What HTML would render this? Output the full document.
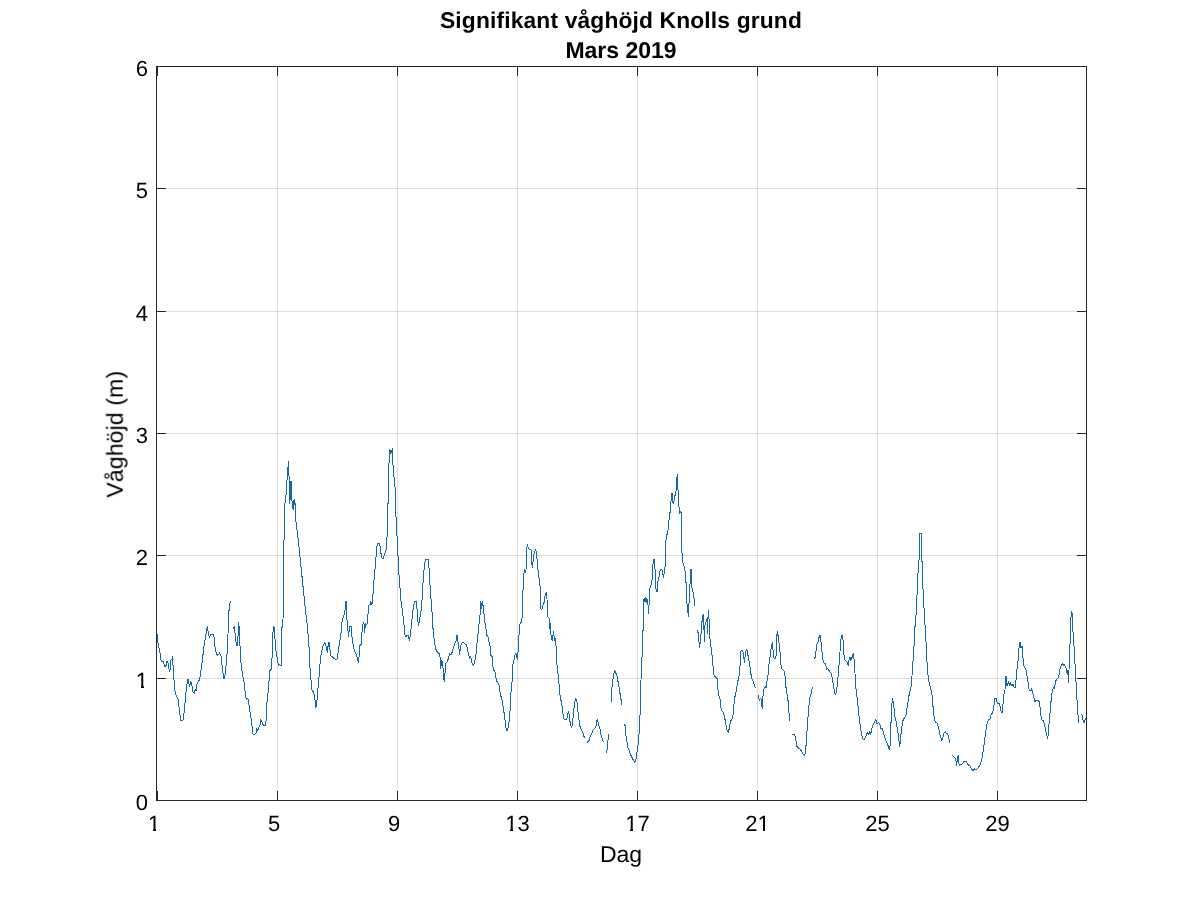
<!DOCTYPE html><html><head><meta charset="utf-8"><style>html,body{margin:0;padding:0;background:#fff;width:1200px;height:900px;overflow:hidden}svg{display:block}text{font-family:"Liberation Sans",sans-serif;fill:#000;text-rendering:geometricPrecision}</style></head><body>
<svg width="1200" height="900" viewBox="0 0 1200 900">
<rect x="0" y="0" width="1200" height="900" fill="#fff"/>
<path d="M277.5 67V800 M397.5 67V800 M517.5 67V800 M637.5 67V800 M757.5 67V800 M877.5 67V800 M997.5 67V800" stroke="#262626" stroke-opacity="0.15" stroke-width="1" fill="none" shape-rendering="crispEdges"/>
<path d="M157 678.5H1086 M157 555.5H1086 M157 433.5H1086 M157 311.5H1086 M157 188.5H1086" stroke="#262626" stroke-opacity="0.15" stroke-width="1" fill="none" shape-rendering="crispEdges"/>
<path d="M157.4 633.8 157.6 640.8 158.1 643.2 159.3 649.3 160.1 653.0 161.1 660.3 162.1 662.2 162.9 661.0 163.8 663.4 164.8 666.5 166.0 665.8 167.0 661.0 167.8 661.6 168.7 667.1 169.4 672.0 170.3 668.9 170.9 660.3 171.9 659.1 172.5 656.7 173.1 666.5 173.9 678.7 174.8 689.7 175.8 694.6 177.2 697.0 178.2 699.5 178.8 705.6 179.7 712.9 180.7 720.2 181.9 720.9 182.9 720.2 183.7 715.4 184.6 708.0 185.6 695.8 186.5 688.5 187.4 679.9 188.3 679.3 189.0 683.6 189.8 686.6 190.5 681.1 191.4 682.3 192.3 687.2 193.1 692.1 194.1 693.3 195.1 689.7 196.0 690.9 196.8 684.8 197.8 682.3 198.8 681.1 200.0 677.5 200.8 671.3 202.1 662.8 203.3 651.8 204.5 641.4 205.4 638.3 206.3 632.2 207.3 626.1 208.2 632.2 209.0 635.9 209.8 637.1 210.6 634.1 212.2 634.1 213.4 634.7 214.3 638.3 214.9 646.9 216.1 652.9 217.6 655.6 219.7 652.9 221.1 656.4 222.5 668.9 223.8 678.7 224.7 677.8 226.1 665.3 227.5 647.6 228.0 634.3 228.6 616.0 229.4 605.3 230.5 601.0 M233.1 629.3 234.5 626.2 235.3 637.0 236.5 645.0 237.5 645.3 238.3 631.0 238.6 622.3 239.5 630.0 240.0 646.0 240.7 646.7 241.0 662.7 242.0 670.7 243.3 678.7 244.7 685.3 245.3 696.0 246.7 699.3 248.0 698.7 248.7 702.7 250.0 712.0 251.3 720.0 252.3 728.0 253.1 734.7 254.7 734.0 256.0 733.3 256.7 728.0 257.6 730.7 258.7 728.0 260.0 725.3 260.7 719.3 261.6 721.3 262.7 724.0 264.0 726.0 265.3 725.3 266.0 721.3 266.7 705.3 268.0 693.3 269.0 681.3 269.6 670.7 271.3 669.3 272.0 658.7 272.7 638.0 273.3 626.7 274.4 628.0 274.9 634.7 275.3 648.0 276.7 654.7 278.0 662.7 278.7 665.3 280.0 664.7 281.1 666.0 281.6 628.0 282.7 626.7 283.0 620.0 283.7 560.0 283.7 540.7 284.2 539.0 284.7 504.7 285.6 499.3 286.7 488.7 287.3 471.3 287.8 470.0 288.4 461.3 289.1 478.0 289.3 503.3 290.0 480.7 290.7 499.3 291.3 481.3 292.0 500.7 292.7 507.3 293.3 510.0 294.0 500.0 294.7 499.3 295.0 505.0 295.3 503.3 296.0 522.0 297.3 532.7 298.7 543.3 300.0 556.7 301.7 573.3 303.7 593.3 305.3 608.3 307.0 623.3 308.3 636.7 309.2 650.0 310.0 668.3 310.8 678.3 312.0 690.0 313.3 691.7 314.7 696.7 315.8 707.5 316.7 703.3 318.0 688.3 319.2 675.0 320.3 660.0 321.7 650.8 323.3 645.0 324.7 642.5 325.8 645.0 326.7 650.8 327.5 652.0 328.3 643.3 329.2 642.5 330.0 650.0 330.8 655.9 332.5 657.0 334.7 659.0 337.0 659.0 338.6 648.9 340.1 639.5 341.2 631.8 342.1 620.9 343.2 617.8 344.8 613.1 345.6 601.4 346.3 601.4 346.8 617.8 347.9 630.2 348.7 636.4 349.4 627.1 351.0 626.3 351.8 634.9 353.3 645.8 354.9 652.0 356.4 655.1 357.7 659.8 358.3 662.1 359.2 655.1 359.9 645.8 361.1 644.2 361.9 633.3 363.0 624.0 363.9 622.4 364.5 632.5 365.5 623.2 366.5 624.8 367.3 624.0 368.1 613.1 368.9 605.3 370.1 604.5 370.7 601.4 371.7 604.5 372.6 602.2 373.0 594.4 373.7 583.3 374.8 571.1 375.9 558.7 376.7 546.7 378.0 543.3 379.7 544.0 380.7 549.3 381.3 557.3 383.3 558.7 384.3 554.7 386.0 550.7 387.3 533.3 387.7 504.0 388.4 502.7 388.7 464.0 389.3 462.7 389.6 449.3 390.9 453.3 392.3 448.7 392.7 462.7 393.3 466.7 394.0 477.3 394.9 486.7 395.3 488.0 395.7 516.0 396.3 517.3 397.1 538.7 398.0 556.0 398.4 568.0 399.7 583.5 400.8 599.1 402.3 610.0 403.9 624.0 405.0 634.9 405.9 637.2 407.0 634.9 408.3 635.5 409.3 640.8 410.0 637.0 410.9 630.2 412.1 617.8 413.2 608.4 414.3 601.9 416.3 601.9 417.1 610.0 417.9 620.9 418.6 625.5 419.4 620.9 421.0 611.5 421.7 606.7 422.5 590.0 423.7 573.3 425.0 561.7 425.8 559.2 428.0 559.2 429.2 570.0 430.3 590.0 431.7 606.7 432.5 620.0 433.3 633.3 434.7 643.3 435.8 649.2 437.5 652.5 439.2 653.3 440.3 658.3 440.8 668.3 441.7 660.0 442.5 661.7 443.3 671.7 444.2 681.7 445.0 673.3 445.8 663.3 447.5 661.7 448.7 656.7 449.7 653.3 450.8 655.0 452.0 652.5 453.3 648.3 455.0 643.3 456.3 640.0 457.0 635.0 458.0 641.7 458.7 646.7 459.7 655.0 460.3 646.7 461.7 643.3 463.3 642.5 465.0 644.2 466.7 645.0 468.3 653.3 469.7 658.3 470.8 656.7 472.0 663.3 473.3 665.8 474.7 661.7 475.8 656.7 477.0 643.3 478.3 631.7 479.2 621.7 480.3 613.3 480.8 601.7 481.7 608.3 482.5 601.7 483.7 610.0 484.7 621.7 485.8 626.7 486.7 635.0 488.0 636.7 489.2 643.3 490.2 647.0 490.6 648.3 491.0 655.7 492.2 656.9 492.7 665.5 493.7 670.3 494.9 671.6 495.9 677.7 496.7 681.3 497.9 682.6 499.2 685.0 500.4 696.0 501.6 697.2 502.8 704.6 504.1 713.1 505.3 721.7 506.1 729.0 507.1 730.9 508.1 727.8 508.9 722.9 509.8 715.6 510.5 700.9 511.4 685.0 512.2 681.3 512.6 670.3 513.2 661.8 514.2 659.3 515.1 654.4 515.9 653.2 516.7 656.9 517.5 659.3 518.3 647.3 519.3 630.0 520.3 622.0 521.9 622.0 522.7 596.7 523.7 575.3 524.6 570.0 525.4 572.7 526.0 570.0 526.7 549.3 527.4 544.0 528.3 548.7 529.7 549.3 531.0 550.0 531.7 562.0 532.3 568.0 533.0 562.0 533.7 555.3 534.7 552.0 535.7 549.3 536.6 553.3 537.4 564.7 538.7 575.3 539.7 584.7 540.3 587.3 540.7 608.7 541.4 610.0 542.3 608.0 543.3 603.3 544.3 602.0 545.4 593.3 546.3 592.7 547.0 599.3 547.7 616.7 549.0 618.0 549.7 628.7 550.3 623.3 551.0 635.3 552.1 640.7 553.0 635.3 553.7 631.3 554.3 640.7 555.7 638.0 556.6 661.1 557.8 672.0 558.9 682.9 560.0 695.3 561.2 701.5 562.5 709.3 563.6 718.6 565.1 719.4 566.7 719.4 567.8 714.0 568.7 711.6 569.8 720.2 570.6 724.9 571.8 728.0 572.4 723.3 573.4 714.0 574.4 704.7 575.5 698.4 576.8 700.0 577.6 707.8 578.6 717.1 579.9 726.4 581.4 729.5 583.0 732.6 584.3 737.7 M587.3 742.3 589.0 740.7 590.0 737.3 592.3 732.0 593.3 729.7 595.7 727.3 596.3 725.3 596.7 721.3 597.5 719.5 598.0 722.0 599.2 726.7 600.3 729.3 601.0 734.7 602.3 738.7 603.5 742.3 M606.3 752.7 607.3 749.3 607.9 740.0 608.5 739.3 608.7 734.3 M611.3 702.3 611.8 689.1 612.9 679.8 614.1 672.0 614.9 670.7 616.0 673.5 617.2 676.7 618.8 686.0 620.3 695.3 622.0 705.3 M624.3 724.3 625.3 726.0 625.7 735.3 626.7 738.7 627.3 746.0 628.9 749.8 630.4 754.4 632.0 757.5 633.5 760.6 634.6 762.2 635.6 761.9 636.6 754.4 637.7 748.2 638.7 738.9 639.8 723.3 640.5 695.3 641.0 680.0 641.6 664.0 642.4 650.0 642.4 631.0 643.3 630.0 643.6 606.7 644.1 597.8 644.8 602.0 645.5 598.0 646.2 603.0 646.9 598.0 647.5 603.0 648.0 604.4 648.6 613.3 649.1 603.3 649.4 588.3 650.8 587.8 651.3 580.6 652.2 580.0 652.7 567.2 653.6 559.4 654.4 559.4 654.9 565.6 655.6 586.7 656.3 590.0 657.1 592.2 658.0 581.1 658.9 577.8 659.7 573.3 660.2 569.4 661.9 569.4 662.7 572.2 663.3 577.8 664.1 573.3 664.7 567.8 665.2 566.7 665.6 545.0 666.4 535.3 667.6 533.5 668.5 526.1 669.4 515.1 670.4 510.8 671.3 496.8 672.1 493.1 672.6 496.0 673.1 504.1 674.1 500.5 675.0 495.6 675.6 491.9 676.5 489.4 676.8 478.4 677.4 474.2 677.8 489.4 678.3 490.7 679.0 506.6 679.8 513.9 680.5 511.5 681.1 512.7 681.4 549.4 681.9 551.0 682.4 560.0 683.6 565.6 684.4 566.7 685.2 572.2 685.8 582.2 686.6 583.3 686.9 603.3 687.7 606.7 688.2 616.7 688.6 606.7 689.3 600.0 689.7 584.4 690.2 583.3 690.8 569.4 691.3 569.4 691.7 586.7 692.4 588.9 693.2 593.3 694.1 598.9 694.7 605.6 M697.2 630.0 698.3 633.3 698.9 640.0 699.4 647.8 700.0 644.4 700.6 634.4 701.2 634.0 701.7 622.2 702.2 621.1 702.8 615.6 703.3 614.4 703.9 625.6 704.3 641.7 704.6 626.7 707.0 619.4 707.2 633.3 707.8 620.0 708.6 610.0 709.0 619.4 709.4 620.0 709.7 635.6 710.6 644.4 711.7 651.1 712.6 661.1 713.3 668.9 714.1 675.6 715.0 676.7 716.1 677.8 717.2 678.9 717.8 688.9 718.9 695.6 720.0 698.9 721.3 710.2 723.1 712.0 724.3 715.6 725.6 722.7 727.0 729.8 728.4 732.4 729.7 726.2 730.6 720.9 732.0 719.1 733.2 713.8 734.4 698.9 735.6 694.4 736.7 687.8 737.8 681.1 738.9 677.8 739.4 671.1 740.0 666.7 740.3 653.3 741.1 651.1 742.2 650.0 743.3 652.2 743.9 657.8 744.4 662.2 745.7 651.6 746.9 649.8 748.3 656.9 750.1 667.6 751.5 678.2 752.8 680.9 754.0 683.6 755.3 688.3 M758.2 695.3 759.3 700.3 760.3 698.7 761.5 699.5 762.0 707.3 762.5 708.3 762.9 698.7 763.3 690.0 764.3 688.7 765.0 686.7 766.2 687.3 766.7 684.0 767.3 679.3 768.0 674.7 768.8 665.8 770.0 656.9 771.1 648.0 772.3 642.7 773.2 651.6 774.1 658.7 775.9 658.7 776.8 635.6 777.3 631.1 778.6 639.1 780.0 651.6 781.2 667.6 783.0 670.0 784.7 671.3 785.0 676.0 785.7 686.0 786.7 690.7 787.7 700.7 788.5 701.0 789.0 712.7 789.3 721.3 M792.5 734.2 794.7 735.0 795.8 740.0 797.0 746.7 798.7 748.3 800.3 749.2 801.7 751.7 803.3 754.2 804.7 755.8 805.8 748.3 806.7 736.7 807.5 723.3 808.3 713.3 809.2 703.3 810.0 696.7 811.3 693.3 812.5 686.7 M814.7 659.2 815.8 653.3 816.7 645.0 818.0 641.7 819.2 636.7 820.0 635.0 820.8 640.0 821.7 650.0 823.0 660.0 824.2 663.3 825.8 664.2 826.7 670.0 827.5 668.3 828.7 670.0 830.0 671.7 831.3 673.3 832.5 680.0 833.7 686.7 834.7 693.3 835.8 694.2 837.0 686.7 838.0 676.7 839.2 663.3 840.0 651.7 840.8 640.0 842.0 635.0 843.0 640.0 843.7 653.3 844.7 660.0 845.8 660.8 847.0 661.7 848.3 665.8 849.2 658.3 850.0 656.7 850.8 660.8 852.0 657.5 853.3 653.3 854.2 660.0 855.0 673.3 855.8 686.7 857.0 696.7 858.3 708.3 859.2 718.3 860.3 726.7 861.3 733.3 862.5 738.3 863.7 740.0 865.0 738.3 866.3 735.0 867.5 732.5 868.7 735.0 869.7 731.7 870.8 734.2 872.0 728.3 873.3 724.2 874.7 721.7 875.8 719.2 877.0 724.2 878.4 722.4 879.7 724.0 880.9 728.6 882.0 727.9 883.6 733.3 885.1 738.0 886.7 742.6 888.2 745.8 889.3 749.6 890.1 745.8 890.6 724.8 891.3 720.9 891.8 705.3 892.4 698.3 893.4 702.2 894.0 708.4 894.9 716.2 896.0 720.9 897.1 727.1 898.0 733.3 898.8 739.5 899.6 746.5 900.3 742.6 901.1 733.3 902.2 724.0 903.3 719.3 904.5 717.8 905.8 716.2 906.9 708.4 908.0 702.2 908.9 696.0 910.0 691.3 911.1 686.7 912.0 675.8 912.6 663.3 913.2 660.0 913.5 646.4 914.2 646.0 914.7 628.4 915.7 622.5 916.5 603.0 917.7 585.0 918.3 561.0 919.2 559.5 919.5 534.0 921.3 533.2 921.7 561.0 922.5 562.5 922.8 585.0 923.7 603.0 924.7 619.5 925.8 639.0 926.3 645.0 926.8 658.7 927.6 671.1 928.7 680.4 930.2 686.7 931.8 692.9 932.9 705.3 933.8 714.6 934.9 720.9 936.0 722.4 937.2 723.2 938.5 727.1 939.5 733.3 940.6 737.2 941.9 740.3 943.1 736.4 944.2 732.5 945.3 731.8 946.5 733.3 947.8 734.1 948.9 738.0 949.7 742.6 M952.4 755.1 953.5 756.6 955.1 758.2 955.9 759.8 956.6 765.2 957.3 760.0 958.2 755.1 959.0 764.4 959.8 765.2 961.3 764.4 962.9 762.9 964.4 761.0 966.4 762.0 968.4 765.0 970.0 766.0 971.6 769.0 973.0 771.0 974.4 769.0 976.0 770.0 978.0 768.0 980.0 765.0 981.6 760.0 983.0 752.0 984.4 742.0 985.6 732.0 987.0 724.0 988.4 720.0 990.0 719.0 991.0 715.0 992.4 713.0 993.6 709.0 994.4 702.0 995.0 698.0 996.4 699.0 997.6 704.0 999.0 703.0 1000.0 706.0 1001.0 711.0 1002.0 713.0 1003.0 704.0 1004.0 694.0 1005.0 690.0 1005.6 676.0 1006.3 677.0 1007.0 686.0 1008.4 682.0 1009.6 685.0 1010.5 683.0 1011.6 686.0 1013.0 684.0 1014.0 687.0 1015.6 688.0 1016.4 672.0 1017.6 666.0 1018.4 656.0 1019.0 648.0 1019.6 642.0 1020.4 643.0 1021.0 648.0 1022.0 646.0 1023.0 658.0 1024.0 666.0 1026.0 670.0 1027.0 676.0 1028.0 682.0 1029.0 689.0 1030.4 691.0 1031.6 689.0 1032.4 692.0 1033.6 696.0 1035.0 702.0 1036.4 700.0 1038.4 700.0 1039.6 703.0 1040.8 715.1 1041.9 719.8 1043.1 720.5 1044.4 724.4 1045.4 729.1 1046.5 733.7 1047.5 738.4 1048.1 735.3 1049.0 724.4 1050.1 712.0 1051.2 699.5 1052.4 690.2 1053.7 687.1 1054.3 689.0 1055.2 684.0 1056.3 679.3 1057.9 678.5 1059.0 674.7 1060.2 668.4 1061.5 664.5 1062.6 663.8 1063.3 665.5 1064.1 663.8 1065.2 666.9 1066.4 668.4 1067.2 674.7 1068.0 670.0 1068.5 682.4 1069.0 670.0 1069.5 645.1 1070.3 643.5 1070.8 618.7 1071.9 610.9 1072.7 623.3 1073.4 643.5 1074.2 646.7 1075.0 663.8 1075.8 677.8 1077.0 699.5 1078.1 716.6 1078.6 722.9 M1081.2 714.3 1082.3 715.1 1083.2 721.3 1084.3 722.9 1085.4 719.0 1086.0 718.2" stroke="#1368a6" stroke-width="1" fill="none" stroke-linejoin="round" shape-rendering="crispEdges"/>
<path d="M156.5 66.5H1086.5V800.5H156.5Z" stroke="#262626" stroke-width="1" fill="none" shape-rendering="crispEdges"/>
<path d="M157.5 800V791M157.5 67V76 M277.5 800V791M277.5 67V76 M397.5 800V791M397.5 67V76 M517.5 800V791M517.5 67V76 M637.5 800V791M637.5 67V76 M757.5 800V791M757.5 67V76 M877.5 800V791M877.5 67V76 M997.5 800V791M997.5 67V76 M157 800.5H166M1086 800.5H1077 M157 678.5H166M1086 678.5H1077 M157 555.5H166M1086 555.5H1077 M157 433.5H166M1086 433.5H1077 M157 311.5H166M1086 311.5H1077 M157 188.5H166M1086 188.5H1077 M157 66.5H166M1086 66.5H1077" stroke="#262626" stroke-width="1" fill="none" shape-rendering="crispEdges"/>
<g style="filter:grayscale(1)">
<text x="148" y="810.2" font-size="22" text-anchor="end" fill="#262626">0</text>
<text x="148" y="688.2" font-size="22" text-anchor="end" fill="#262626">1</text>
<text x="148" y="565.2" font-size="22" text-anchor="end" fill="#262626">2</text>
<text x="148" y="443.2" font-size="22" text-anchor="end" fill="#262626">3</text>
<text x="148" y="321.2" font-size="22" text-anchor="end" fill="#262626">4</text>
<text x="148" y="198.2" font-size="22" text-anchor="end" fill="#262626">5</text>
<text x="148" y="76.2" font-size="22" text-anchor="end" fill="#262626">6</text>
<text x="154.2" y="831" font-size="22" text-anchor="middle" fill="#262626">1</text>
<text x="274.2" y="831" font-size="22" text-anchor="middle" fill="#262626">5</text>
<text x="394.2" y="831" font-size="22" text-anchor="middle" fill="#262626">9</text>
<text x="517.5" y="831" font-size="22" text-anchor="middle" fill="#262626">13</text>
<text x="637.5" y="831" font-size="22" text-anchor="middle" fill="#262626">17</text>
<text x="757.5" y="831" font-size="22" text-anchor="middle" fill="#262626">21</text>
<text x="877.5" y="831" font-size="22" text-anchor="middle" fill="#262626">25</text>
<text x="997.5" y="831" font-size="22" text-anchor="middle" fill="#262626">29</text>
<text x="621" y="861.5" font-size="23" text-anchor="middle" fill="#262626">Dag</text>
<text transform="translate(122.7 434.2) rotate(-90)" x="0" y="0" font-size="23" letter-spacing="0.15" text-anchor="middle" fill="#262626">Våghöjd (m)</text>
<text x="621" y="27.8" font-size="22.8" letter-spacing="0.15" font-weight="bold" text-anchor="middle">Signifikant våghöjd Knolls grund</text>
<text x="621" y="57.8" font-size="23" font-weight="bold" text-anchor="middle">Mars 2019</text>
</g>
<rect x="149" y="829" width="4" height="2" fill="#fff"/>
<rect x="156" y="829" width="3" height="2" fill="#fff"/>
<rect x="507" y="829" width="3" height="2" fill="#fff"/>
<rect x="513" y="829" width="4" height="2" fill="#fff"/>
<rect x="627" y="829" width="3" height="2" fill="#fff"/>
<rect x="633" y="829" width="4" height="2" fill="#fff"/>
<rect x="759" y="829" width="4" height="2" fill="#fff"/>
<rect x="765" y="829" width="4" height="2" fill="#fff"/>
<rect x="137" y="686" width="4" height="2" fill="#fff"/>
<rect x="144" y="686" width="3" height="2" fill="#fff"/>
</svg></body></html>
